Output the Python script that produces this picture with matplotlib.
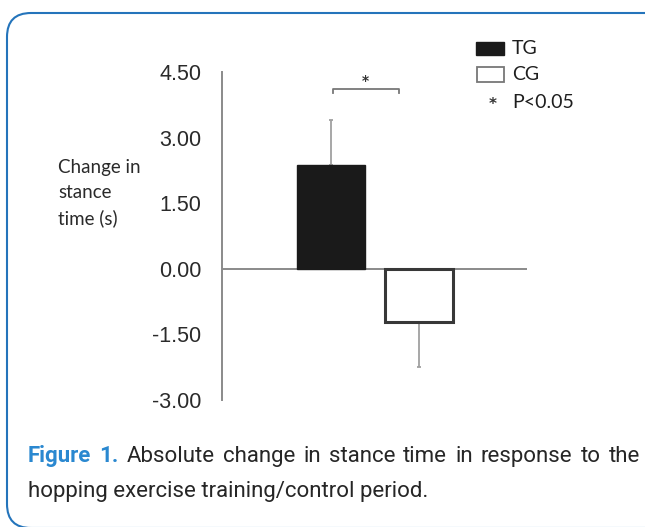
import matplotlib
matplotlib.use("Agg")
import matplotlib.pyplot as plt
import matplotlib.patches as mpatches
import matplotlib.transforms as mtransforms

# data
groups = ["TG", "CG"]
means = [2.38, -1.21]
err_low = [0.0, 1.03]
err_high = [1.03, 0.0]
yticks = [-3.0, -1.5, 0.0, 1.5, 3.0, 4.5]
sig_label = "*"
legend_note = "P<0.05"
caption_lead = "Figure 1."
caption_line1 = "Absolute change in stance time in response to the"
caption_line2 = "hopping exercise training/control period."

W, H = 645, 527
fig = plt.figure(figsize=(W / 100, H / 100), dpi=100)
fig.patch.set_facecolor("white")

def px(x, y):
    # pixel coords from top-left -> figure fraction
    return x / W, 1 - y / H

# blue rounded frame (right and bottom edges run off the image)
frame = mpatches.FancyBboxPatch((7, -1), 720, 515,
                                boxstyle="round,pad=0,rounding_size=24",
                                transform=mtransforms.IdentityTransform(),
                                fc="none", ec="#2474bb", lw=1.5)
fig.patches.append(frame)

# plot area: left axis at x=222, zero line to x=527, y range 72..400
ax = fig.add_axes([222 / W, 1 - 400 / H, 305 / W, 328 / H])
ax.set_facecolor("none")
xs = list(range(len(groups)))
ax.bar(xs, means, width=0.77, color=["#1a1a1a", "white"],
       edgecolor=["#1a1a1a", "#383838"], linewidth=[1, 2.2], zorder=3)
ax.errorbar(xs, means, yerr=[err_low, err_high], fmt="none",
            ecolor="#a0a0a0", elinewidth=1.3, capsize=1.5, capthick=1.3, zorder=2)
ax.set_xlim(-1.24, 2.23)
ax.set_ylim(-3.0, 4.5)
ax.set_yticks(yticks)
ax.set_yticklabels([f"{v:.2f}" for v in yticks], fontsize=15.5,
                   family="Liberation Sans", color="#2a2a2a")
ax.tick_params(axis="y", length=0, pad=15)
ax.tick_params(axis="x", bottom=False, labelbottom=False)
for s in ["top", "right", "bottom"]:
    ax.spines[s].set_visible(False)
ax.spines["left"].set_color("#8a8a8a")
ax.spines["left"].set_linewidth(1.4)
ax.axhline(0, color="#8a8a8a", lw=1.4, zorder=1)

# significance bracket
bx0, bx1, by = 0.02, 0.77, 4.12
ax.plot([bx0, bx0, bx1, bx1], [by - 0.09, by, by, by - 0.09],
        color="#777777", lw=1.3, clip_on=False)
ax.text((bx0 + bx1) / 2, 4.30, sig_label, ha="center", va="center",
        fontsize=10, fontweight="bold", color="#333333")

# y label
lab_font = ["Lato", "DejaVu Sans"]
for txt, yy in [("Change in", 167), ("stance", 193), ("time (s)", 218)]:
    fig.text(*px(58, yy), txt, ha="left", va="center", fontsize=13.5,
             family=lab_font, color="#2a2a2a")

# legend
fx, fy = px(476, 55)
fig.patches.append(mpatches.Rectangle((fx, fy), 28 / W, 13 / H, transform=fig.transFigure,
                                      fc="#1a1a1a", ec="#1a1a1a", lw=1))
fx, fy = px(477, 82)
fig.patches.append(mpatches.Rectangle((fx, fy), 27 / W, 15 / H, transform=fig.transFigure,
                                      fc="white", ec="#777777", lw=1.3))
fig.text(*px(512, 48), groups[0], va="center", fontsize=14, family=lab_font, color="#1e1e1e")
fig.text(*px(512, 75), groups[1], va="center", fontsize=14, family=lab_font, color="#1e1e1e")
fig.text(*px(493, 105), sig_label, ha="center", va="center", fontsize=11,
         fontweight="bold", color="#333333")
fig.text(*px(512, 102), legend_note, va="center", fontsize=14, family=lab_font, color="#1e1e1e")

# caption, first line justified between x=28 and x=640
cap_font = "Roboto"
cap_size = 16
fig.canvas.draw()
r = fig.canvas.get_renderer()
words = [(w, True) for w in caption_lead.split()] + [(w, False) for w in caption_line1.split()]
arts = []
for w, lead in words:
    t = fig.text(0, 1 - 462 / H, w, fontsize=cap_size, family=cap_font, va="baseline",
                 fontweight="bold" if lead else "normal",
                 color="#2a88d0" if lead else "#262626")
    arts.append(t)
widths = [t.get_window_extent(r).width for t in arts]
gap = (640 - 28 - sum(widths)) / (len(arts) - 1)
x = 28
for t, wd in zip(arts, widths):
    t.set_x(x / W)
    x += wd + gap
fig.text(*px(28, 497), caption_line2, fontsize=cap_size, family=cap_font,
         color="#262626", va="baseline")

fig.savefig("out.png", dpi=100, facecolor="white")
